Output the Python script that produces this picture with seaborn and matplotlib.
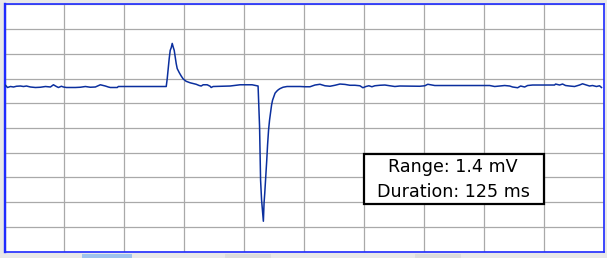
import numpy as np
import pandas as pd
import matplotlib
matplotlib.use("Agg")
import matplotlib.pyplot as plt
from matplotlib.patches import Rectangle
import seaborn as sns

# ---- data (time in ms, amplitude in mV relative to baseline) ----
time_ms = [1, 3, 6, 9, 12, 16, 19, 22, 26, 31, 36, 41, 46, 49, 52, 54, 57, 59, 62, 71,
           76, 81, 86, 91, 96, 101, 104, 106, 113, 114, 162,
           163, 164, 165, 166, 167, 168, 169, 170, 171, 172, 173, 175, 177, 179, 182,
           186, 189, 192, 195, 197, 199, 203, 206, 207, 209, 216, 226, 236, 248, 254,
           254.5, 255.5, 256.5, 257.5, 258.5, 259.3, 260, 260.7, 261.7, 262.7, 263.5,
           264.5, 265.5, 266.5, 267.5, 268.5, 269.7, 271, 272.7, 274.3, 276, 279, 283,
           296, 301, 306, 311, 316, 321, 326, 331, 336, 341, 346, 351, 356, 359, 362,
           365, 368, 371, 376, 381, 386, 391, 396, 416, 421, 424, 428, 431, 486, 491,
           496, 501, 506, 509, 514, 517, 521, 524, 529, 536, 551, 552, 556, 559, 562,
           566, 571, 576, 579, 583, 586, 589, 593, 596, 598]
amplitude_mv = [0.008, -0.010, -0.002, -0.006, 0.000, 0.002, -0.002, 0.002, -0.006, -0.010,
                -0.008, -0.002, -0.006, 0.012, -0.002, -0.010, 0.000, -0.006, -0.010, -0.010,
                -0.008, -0.002, -0.008, -0.006, 0.012, 0.002, -0.006, -0.010, -0.010, -0.002,
                -0.002,
                0.062, 0.143, 0.226, 0.291, 0.312, 0.347, 0.317, 0.291, 0.236, 0.183, 0.143,
                0.111, 0.083, 0.059, 0.040, 0.028, 0.022, 0.016, 0.006, 0.002, 0.012, 0.012,
                0.000, -0.010, -0.002, 0.000, 0.002, 0.012, 0.012, 0.002,
                -0.113, -0.328, -0.759, -0.920, -1.014, -1.093, -0.944, -0.864, -0.734,
                -0.597, -0.476, -0.355, -0.274, -0.210, -0.153, -0.113, -0.085, -0.056,
                -0.040, -0.028, -0.019, -0.008, -0.002,
                -0.002, -0.004, -0.004, 0.010, 0.016, 0.004, 0.000, 0.008, 0.018, 0.015,
                0.008, 0.008, 0.004, -0.012, -0.002, 0.004, -0.004, 0.004, 0.008, 0.010,
                0.004, -0.002, 0.002, 0.000, 0.004, 0.016, 0.010, 0.006, 0.006, -0.002,
                0.002, 0.006, 0.002, -0.006, -0.012, 0.002, -0.006, 0.006, 0.010, 0.010,
                0.010, 0.018, 0.010, 0.018, 0.006, 0.002, -0.002, 0.010, 0.020, 0.010,
                0.002, 0.006, -0.002, 0.004, -0.010]

box_lines = ["Range: 1.4 mV", "Duration: 125 ms"]

x_range = (0, 600)
y_range = (-1.338, 0.662)

df = pd.DataFrame({"t": time_ms, "v": amplitude_mv})

W, H = 607, 258
fig = plt.figure(figsize=(W / 100, H / 100), dpi=100)
fig.patch.set_facecolor("#e8e8e8")

# UI tabs below chart
def px_rect(x0, y0, x1, y1, **kw):
    fig.patches.append(Rectangle((x0 / W, 1 - y1 / H), (x1 - x0) / W, (y1 - y0) / H,
                                 transform=fig.transFigure, **kw))

px_rect(82, 253.5, 132, 258, facecolor="#9ec3ee", edgecolor="none")
px_rect(225, 254, 271, 258, facecolor="#dcdcdc", edgecolor="none")
px_rect(415, 254, 461, 258, facecolor="#dcdcdc", edgecolor="none")

ax = fig.add_axes([4.5 / W, (H - 251.5) / H, 599 / W, 247 / H])
ax.set_facecolor("white")

sns.lineplot(data=df, x="t", y="v", ax=ax, sort=False, estimator=None,
             color="#0b2f9e", linewidth=1.1, zorder=3)

ax.set_xlim(*x_range)
ax.set_ylim(*y_range)
ax.set_xticks(np.arange(x_range[0], x_range[1] + 1, 60))
ax.set_yticks(np.linspace(y_range[0], y_range[1], 11))
ax.grid(True, color="#a9a9a9", linewidth=0.9, zorder=0)
ax.set_axisbelow(True)
ax.tick_params(length=0, labelbottom=False, labelleft=False)
ax.set_xlabel("")
ax.set_ylabel("")
for name, sp in ax.spines.items():
    sp.set_color("#1f2bff")
    sp.set_linewidth(1.2)
ax.spines["left"].set_linewidth(1.7)

# annotation box
px_rect(364, 153.5, 544, 204, facecolor="white", edgecolor="black", linewidth=1.6, zorder=5)
for line, base in zip(box_lines, [171.7, 196.7]):
    fig.text(453 / W, 1 - base / H, line, ha="center", va="baseline",
             fontsize=12.6, family="DejaVu Sans", color="black", zorder=6)

fig.savefig("out.png", dpi=100, facecolor=fig.get_facecolor())
